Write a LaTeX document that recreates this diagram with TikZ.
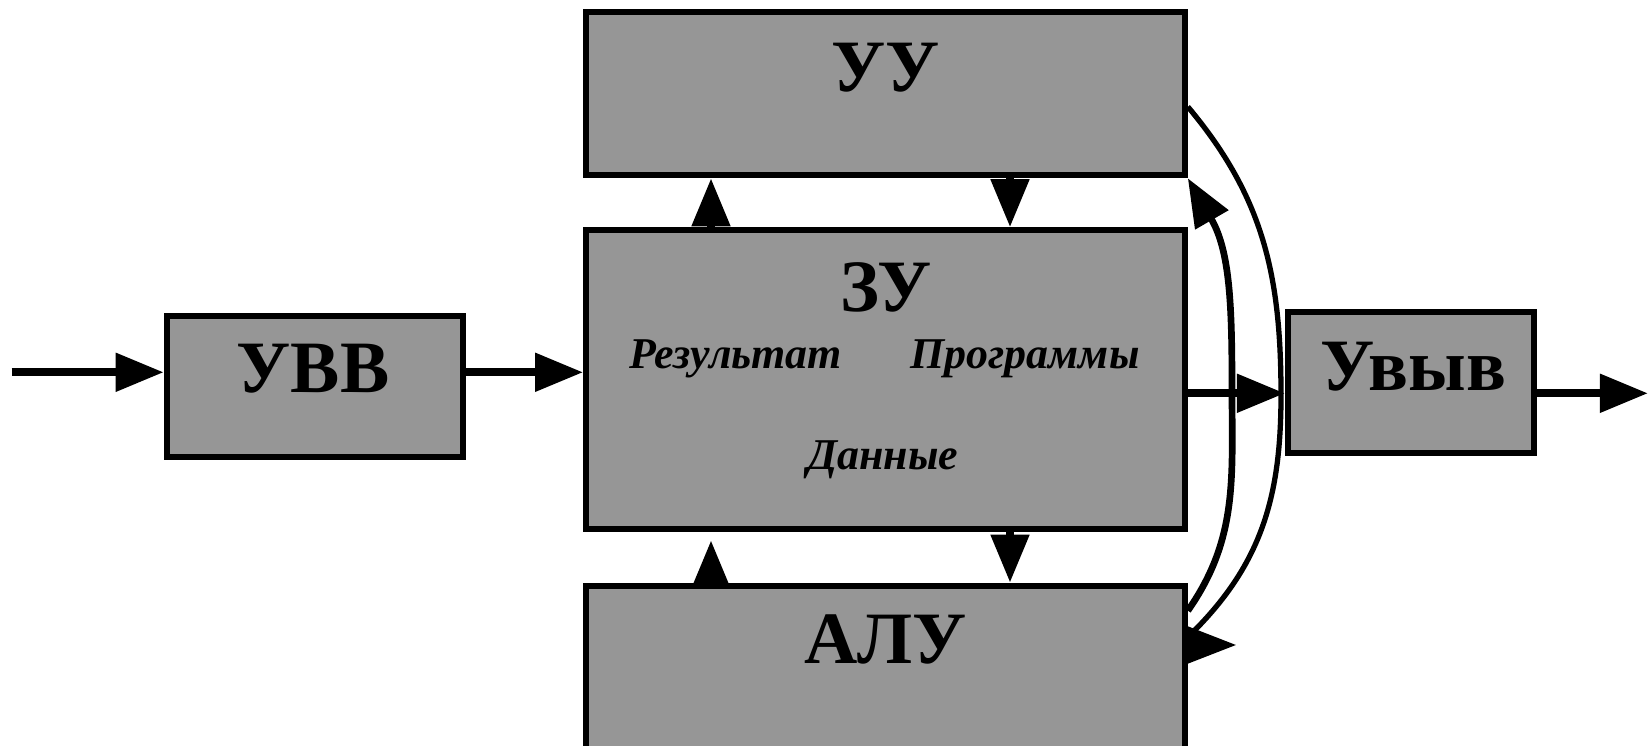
\documentclass[tikz,border=0pt]{standalone}
\usepackage{fontspec}
\setmainfont{Liberation Serif}
\usetikzlibrary{arrows.meta}
\definecolor{blokgray}{RGB}{150,150,150}
\tikzset{
  blok/.style={draw, line width=1.7pt, fill=blokgray, inner sep=0pt},
  arr/.style={line width=2.3pt, -{Triangle[length=4.8mm,width=3.7mm]}},
  rarr/.style={line width=0.4pt, -{Triangle[reversed,length=4.8mm,width=3.7mm]}},
  big/.style={font=\fontsize{21}{25}\selectfont\bfseries, anchor=base, inner sep=0pt},
  small/.style={font=\fontsize{12.5}{15}\selectfont\bfseries\itshape, anchor=base, inner sep=0pt}
}
\begin{document}
\begin{tikzpicture}[x=0.01cm,y=0.01cm]
\useasboundingbox (0,0) rectangle (1648,746);

\node[blok, minimum width=2.962cm, minimum height=1.407cm] (uvv) at (314.9,359.3) {};
\node[blok, minimum width=5.984cm, minimum height=1.63cm] (uu) at (885.5,652.2) {};
\node[blok, minimum width=5.984cm, minimum height=2.99cm] (zu) at (885.5,366.2) {};
\node[blok, minimum width=5.984cm, minimum height=2.2cm] (alu) at (885.5,50.3) {};
\node[blok, minimum width=2.463cm, minimum height=1.407cm] (uvyv) at (1411.2,363.3) {};

\node[big] (uutxt) at (885.8,654.3) {УУ};
\node[big] (zutxt) at (885.7,434) {ЗУ};
\node[small] (res) at (735.8,377.7) {Результат};
\node[small] (prog) at (1025,377.7) {Программы};
\node[small] (dan) at (883,276) {Данные};
\node[big] (alutxt) at (885.8,82.7) {АЛУ};
\node[big] (uvvtxt) at (312.9,353.3) {УВВ};
\node[big] (uvyvtxt) at (1413.3,355) {Увыв};

\coordinate (in) at (11.5,373.7);
\coordinate (out) at (1648,352.7);
\coordinate (lx) at (711,0);
\coordinate (rx) at (1010,0);
\coordinate (bend1) at (1281,351);
\coordinate (bend2) at (1232,356);
\coordinate (sigend) at (1193,114);
\coordinate (sigtip) at (1230,101);

\draw[arr] (in) -- (in -| uvv.west);
\draw[arr] (in -| uvv.east) -- (in -| zu.west);
\draw[arr] (out -| zu.east) -- (out -| uvyv.west);
\draw[arr] (out -| uvyv.east) -- (out);
\draw[arr] (zu.north -| lx) -- (uu.south -| lx);
\draw[arr] (uu.south -| rx) -- (zu.north -| rx);
\draw[arr] (zu.south -| rx) -- (alu.north -| rx);
\draw[arr, shorten >=0.8mm] (alu.north -| lx) -- (zu.south -| lx);

\draw[line width=1.5pt] ([yshift=-0.13cm]uu.east) to[out=-50,in=90] (bend1) to[out=-90,in=45] (sigend);
\draw[rarr] (sigtip) -- (alu.east |- sigtip);
\draw[arr, line width=1.9pt] ([yshift=-0.28cm]alu.north east) to[out=55,in=-90] (bend2) to[out=90,in=-60] (uu.south east);
\end{tikzpicture}
\end{document}
